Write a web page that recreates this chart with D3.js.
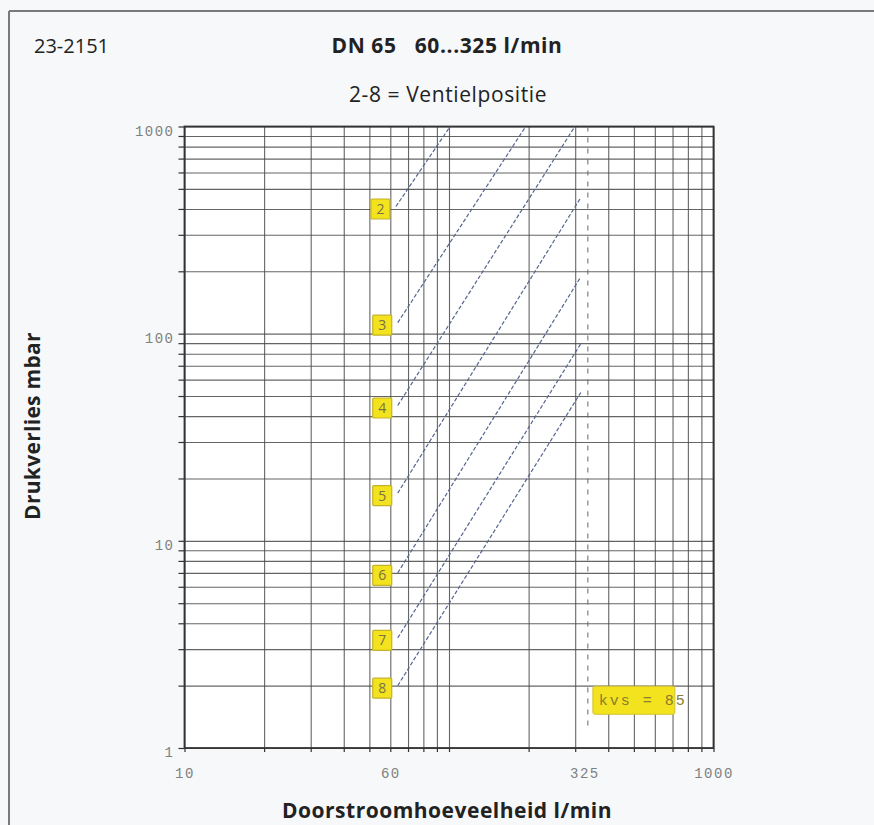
<!DOCTYPE html>
<html>
<head>
<meta charset="utf-8">
<script src="https://cdn.jsdelivr.net/npm/d3@7"></script>
<style>
  html, body { margin: 0; padding: 0; background: #f6f8fa; }
  svg { display: block; }
</style>
</head>
<body>
<svg id="chart" width="874" height="825"></svg>
<script>
// ---------- data ----------
const flowTicks = [10, 60, 325, 1000];          // x tick labels, l/min
const dpTicks = [1, 10, 100, 1000];             // y tick labels, mbar
const positions = ["2", "3", "4", "5", "6", "7", "8"];
const startFlow = [63, 64, 64, 64, 64, 64, 64];
const startDp   = [411, 113, 45, 17, 7.0, 3.4, 2.0];
const endFlow   = [101, 195, 299, 315, 315, 315, 315];
const endDp     = [1000, 1000, 1000, 454, 188, 89.5, 52];
const kvsFlow = 335;                             // dashed max-flow line
const kvsDpRange = [1.25, 1000];
const kvsLabel = "kvs = 85";
const kvsLabelDp = 1.7;

(function () {
// ---------- layout ----------
const svg = d3.select("#chart");
const W = 874, H = 825;
const pL = 184.5, pR = 713.5, pT = 126.5, pB = 748;

const x = d3.scaleLog().domain([10, 1000]).range([pL, pR]);
const y = d3.scaleLog().domain([1, 1000]).range([pB, pT]);

// outer frame (top and left rule)
svg.append("line").attr("x1", 9).attr("x2", W).attr("y1", 11).attr("y2", 11)
  .attr("stroke", "#7a7a7a").attr("stroke-width", 2);
svg.append("line").attr("x1", 9).attr("x2", 9).attr("y1", 11).attr("y2", H)
  .attr("stroke", "#7a7a7a").attr("stroke-width", 2);

// titles
const sansFont = "'Open Sans', 'Noto Sans', sans-serif";
svg.append("text").attr("x", 34).attr("y", 53).text("23-2151")
  .attr("font-family", sansFont).attr("font-size", 20).attr("fill", "#222");
svg.append("text").attr("x", 447).attr("y", 53).attr("text-anchor", "middle")
  .attr("xml:space", "preserve")
  .text("DN 65   60...325 l/min")
  .attr("font-family", sansFont).attr("font-size", 21).attr("font-weight", "bold")
  .attr("letter-spacing", 0.6).attr("fill", "#222");
svg.append("text").attr("x", 448).attr("y", 102).attr("text-anchor", "middle")
  .text("2-8 = Ventielpositie")
  .attr("font-family", sansFont).attr("font-size", 21).attr("letter-spacing", 0.6).attr("fill", "#222");

// plot background
svg.append("rect").attr("x", pL).attr("y", pT).attr("width", pR - pL).attr("height", pB - pT)
  .attr("fill", "#ffffff");

// grid lines (all log ticks)
const gx = svg.append("g").attr("transform", `translate(0,${pB})`)
  .call(d3.axisBottom(x).tickValues(x.ticks()).tickSize(-(pB - pT)).tickFormat(""));
gx.select(".domain").remove();
gx.selectAll("line").attr("stroke", "#4a4a4a").attr("stroke-width", 1.1).attr("opacity", 0.85);

const gy = svg.append("g").attr("transform", `translate(${pL},0)`)
  .call(d3.axisLeft(y).tickValues(y.ticks()).tickSize(-(pR - pL)).tickFormat(""));
gy.select(".domain").remove();
gy.selectAll("line").attr("stroke", "#4a4a4a").attr("stroke-width", 1.1).attr("opacity", 0.85);

// small outward tick marks
const tx = svg.append("g").attr("transform", `translate(0,${pB})`)
  .call(d3.axisBottom(x).tickValues(x.ticks()).tickSize(4).tickFormat(""));
tx.select(".domain").remove();
tx.selectAll("line").attr("stroke", "#333").attr("stroke-width", 1.2);
const ty = svg.append("g").attr("transform", `translate(${pL},0)`)
  .call(d3.axisLeft(y).tickValues(y.ticks()).tickSize(6).tickFormat(""));
ty.select(".domain").remove();
ty.selectAll("line").attr("stroke", "#333").attr("stroke-width", 1.2);

// frame of plot (axes)
svg.append("rect").attr("x", pL).attr("y", pT).attr("width", pR - pL).attr("height", pB - pT)
  .attr("fill", "none").attr("stroke", "#333").attr("stroke-width", 1.8);

// tick labels
const monoFont = "'Liberation Mono', 'DejaVu Sans Mono', monospace";
const lx = svg.append("g").attr("transform", `translate(0,${pB})`)
  .call(d3.axisBottom(x).tickValues(flowTicks).tickSize(0).tickPadding(20).tickFormat(d3.format("d")));
lx.select(".domain").remove();
lx.selectAll("text").attr("font-family", monoFont).attr("font-size", 14)
  .attr("letter-spacing", 1.5).attr("fill", "#808080");

const ly = svg.append("g").attr("transform", `translate(${pL},0)`)
  .call(d3.axisLeft(y).tickValues(dpTicks).tickSize(0).tickPadding(10).tickFormat(d3.format("d")));
ly.select(".domain").remove();
ly.selectAll("text").attr("font-family", monoFont).attr("font-size", 14)
  .attr("letter-spacing", 1.5).attr("fill", "#808080").attr("dy", "0.62em");

// kvs dashed line
svg.append("line")
  .attr("x1", x(kvsFlow)).attr("x2", x(kvsFlow))
  .attr("y1", y(kvsDpRange[1])).attr("y2", y(kvsDpRange[0]))
  .attr("stroke", "#666").attr("stroke-width", 1).attr("stroke-dasharray", "5,6");

// valve position curves
const rows = positions.map((p, i) => ({
  p, pts: [[startFlow[i], startDp[i]], [endFlow[i], endDp[i]]]
}));
const line = d3.line().x(d => x(d[0])).y(d => y(d[1]));
svg.append("g").selectAll("path").data(rows).join("path")
  .attr("d", d => line(d.pts))
  .attr("fill", "none").attr("stroke", "#56658f").attr("stroke-width", 1.2)
  .attr("stroke-dasharray", "4,2");

// labels
const lab = svg.append("g").selectAll("g").data(rows).join("g")
  .attr("transform", d => `translate(${x(d.pts[0][0]) - 15.5},${y(d.pts[0][1]) + 2.5})`);
lab.append("rect").attr("x", -9.5).attr("y", -10).attr("width", 19).attr("height", 20)
  .attr("fill", "#f2e31e").attr("stroke", "#c6b22a").attr("stroke-width", 1.2).attr("rx", 1);
lab.append("text").text(d => d.p).attr("text-anchor", "middle").attr("dy", "0.36em")
  .attr("font-family", sansFont).attr("font-size", 14).attr("fill", "#7a7048");

// kvs label box
const kx = x(kvsFlow) + 5, ky = y(kvsLabelDp);
svg.append("rect").attr("x", kx).attr("y", ky - 14).attr("width", 82).attr("height", 28)
  .attr("fill", "#f2e31e").attr("stroke", "#d4c030").attr("stroke-width", 1).attr("rx", 2);
svg.append("text").attr("x", kx + 6).attr("y", ky + 5).attr("xml:space", "preserve")
  .text(kvsLabel)
  .attr("font-family", monoFont).attr("font-size", 15).attr("letter-spacing", 2)
  .attr("fill", "#8a7c30");

// axis titles
svg.append("text").attr("transform", `translate(40,${426}) rotate(-90)`)
  .attr("text-anchor", "middle").text("Drukverlies mbar")
  .attr("font-family", sansFont).attr("font-size", 21).attr("font-weight", "bold")
  .attr("letter-spacing", 0.3).attr("fill", "#222");
svg.append("text").attr("x", 447).attr("y", 818).attr("text-anchor", "middle")
  .text("Doorstroomhoeveelheid l/min")
  .attr("font-family", sansFont).attr("font-size", 21).attr("font-weight", "bold")
  .attr("letter-spacing", 0.5).attr("fill", "#222");
})();
</script>
</body>
</html>
